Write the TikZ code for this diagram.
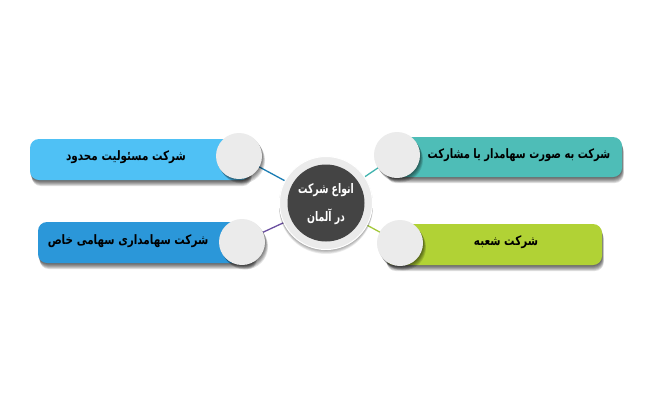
\documentclass[tikz,border=0pt]{standalone}
\usepackage{fontspec}
\TeXXeTstate=1
\newfontfamily\arabicfont[Script=Arabic]{DejaVu Sans}
\newcommand{\lblscale}[1]{\scalebox{1.04}[1.3]{#1}}
\newcommand{\hubscale}[1]{\scalebox{0.85}[1.2]{#1}}
\definecolor{cTL}{HTML}{4FC1F5}
\definecolor{cBL}{HTML}{2B97D9}
\definecolor{cTR}{HTML}{4EBDB7}
\definecolor{cBR}{HTML}{B1D235}
\definecolor{lTL}{HTML}{1B7DB4}
\definecolor{lBL}{HTML}{6A4FA0}
\definecolor{lTR}{HTML}{3FB3AE}
\definecolor{lBR}{HTML}{A3C83A}
\definecolor{dot}{HTML}{EBEBEB}
\definecolor{hub}{HTML}{444444}
\newcommand{\barshadow}[4]{%
  \foreach \s in {1,...,6}{%
    \fill[black,opacity=0.13,rounded corners=9pt] (#1+0.3*\s,#2+\s) rectangle (#3+0.3*\s,#4+\s);}}
\newcommand{\dotshadow}[1]{%
  \foreach \s in {1,...,5}{%
    \fill[black,opacity=0.12] ($(#1)+(0.6*\s,0.9*\s)$) circle[radius=23pt];}}
\usetikzlibrary{calc}
\begin{document}
\begin{tikzpicture}[x=1pt,y=-1pt,
  bar/.style={rounded corners=9pt},
  dotc/.style={circle, fill=dot, minimum size=46pt, inner sep=0pt},
  lbl/.style={font=\arabicfont\bfseries\fontsize{10}{12}\selectfont, text=black},
  hubt/.style={font=\arabicfont\bfseries\fontsize{11}{12}\selectfont, text=white},
  conn/.style={line width=1.3pt}]
\useasboundingbox (0,0) rectangle (650,400);
\fill[white] (0,0) rectangle (650,400);
% hub position
\coordinate (hc) at (326,203);
% connectors
\coordinate (dTL) at (239,156);
\coordinate (dBL) at (242,242);
\coordinate (dTR) at (397,155);
\coordinate (dBR) at (400,243);
\draw[conn,lTL] (dTL) -- (hc);
\draw[conn,lBL] (dBL) -- (hc);
\draw[conn,lTR] (dTR) -- (hc);
\draw[conn,lBR] (dBR) -- (hc);
% bars
\barshadow{30}{139}{250}{180}
\fill[bar,cTL] (30,139) rectangle (250,180);
\barshadow{38}{222}{255}{263}
\fill[bar,cBL] (38,222) rectangle (255,263);
\barshadow{385}{137}{622}{177}
\fill[bar,cTR] (385,137) rectangle (622,177);
\barshadow{385}{224}{602}{265}
\fill[bar,cBR] (385,224) rectangle (602,265);
% dots
\dotshadow{dTL}\node[dotc] (nTL) at (dTL) {};
\dotshadow{dBL}\node[dotc] (nBL) at (dBL) {};
\dotshadow{dTR}\node[dotc] (nTR) at (dTR) {};
\dotshadow{dBR}\node[dotc] (nBR) at (dBR) {};
% hub
\foreach \s in {1,...,5}{\fill[black,opacity=0.07] ($(hc)+(0,0.8*\s)$) circle[radius=47pt];}
\node[circle, minimum size=93pt, inner sep=0pt, fill=dot, draw=white, line width=1pt] (hubo) at (hc) {};
\node[circle, minimum size=77pt, inner sep=0pt, fill=hub] (hubi) at (hc) {};
\node[hubt] (ht1) at (326,190) {\hubscale{\beginR انواع شرکت\endR}};
\node[hubt] (ht2) at (326,217) {\hubscale{\beginR در آلمان\endR}};
% labels
\node[lbl] (tTL) at (126,157) {\lblscale{\beginR شرکت مسئولیت محدود\endR}};
\node[lbl] (tBL) at (128,241) {\lblscale{\beginR شرکت سهامداری سهامی خاص\endR}};
\node[lbl] (tTR) at (519,155) {\scalebox{1.0}[1.3]{\beginR شرکت به صورت سهامدار یا مشارکت\endR}};
\node[lbl] (tBR) at (506,242) {\lblscale{\beginR شرکت شعبه\endR}};
\end{tikzpicture}
\end{document}
